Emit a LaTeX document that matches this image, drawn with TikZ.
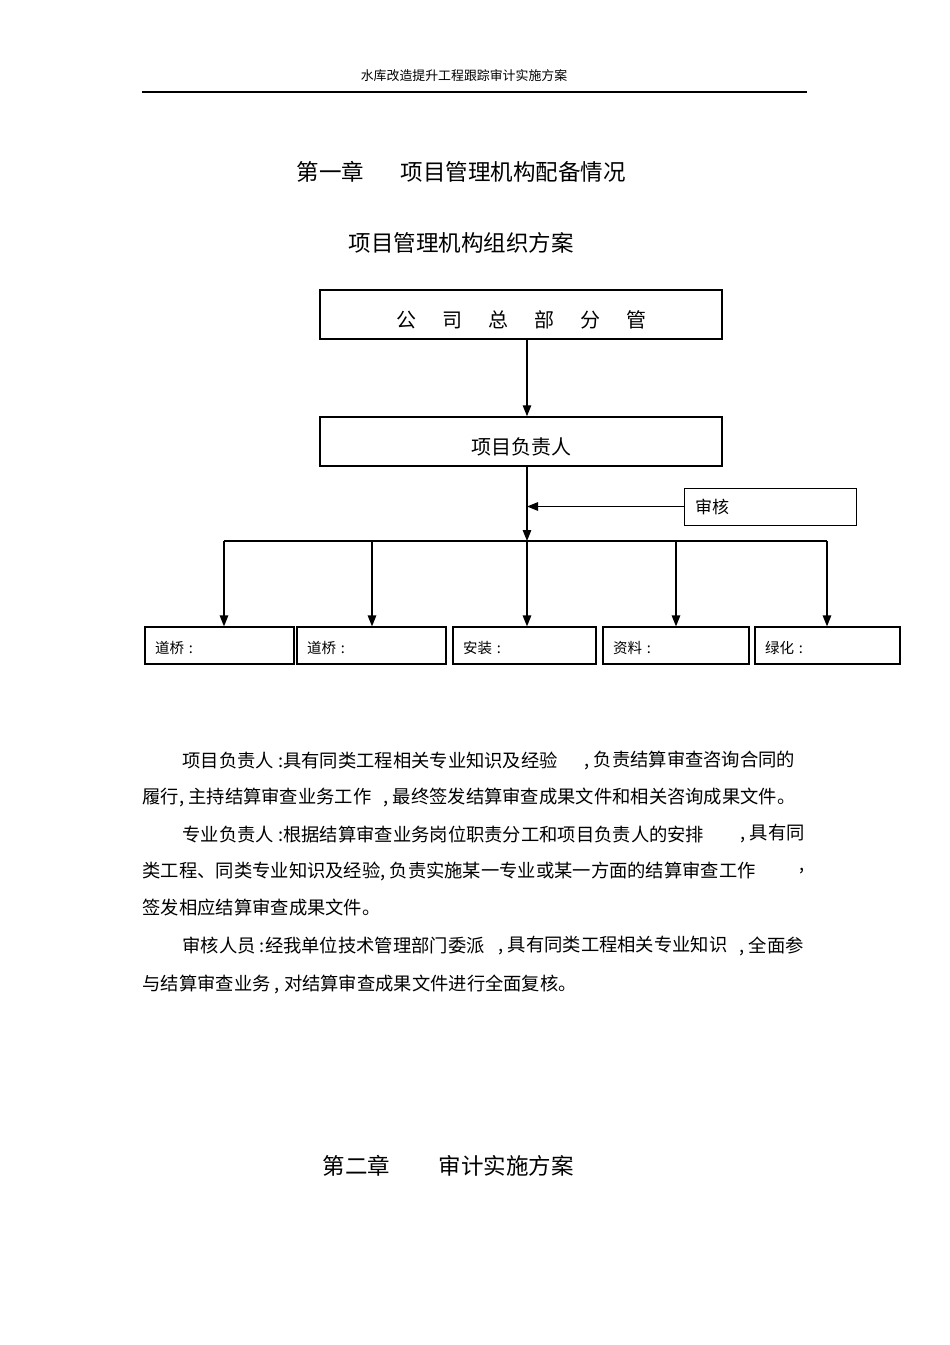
\documentclass[tikz,border=0pt]{standalone}
\usepackage{fontspec}
\setmainfont{Noto Sans CJK SC}
\usetikzlibrary{arrows.meta}
\usetikzlibrary{calc}

\begin{document}
\begin{tikzpicture}[x = 1pt, y = -1pt, >={Triangle[length = 11pt, width = 8.5pt]}, line width = 1.3pt,
						main box/.style = {rectangle, draw, minimum width = 402pt, minimum height = 49pt, inner sep = 0pt, text height = 26pt, text depth = 0pt, line width = 1.5pt, font = \fontsize{20}{22}\selectfont},
						audit box/.style = {rectangle, draw, minimum height = 37pt, text width = 150pt, inner xsep = 11pt, align = left, line width = 1pt, font = \fontsize{17}{20}\selectfont},
						unit box/.style = {rectangle, draw, minimum height = 37pt, text width = #1, inner xsep = 10pt, text height = 16pt, text depth = 0pt, align = left, line width = 1.2pt, font = \fontsize{14.5}{17}\selectfont},
						title/.style = {anchor = west, inner sep = 0pt, font = \fontsize{22.5}{26}\selectfont},
						body/.style = {anchor = west, inner sep = 0pt, font = \fontsize{18.3}{21}\selectfont}]
		\useasboundingbox (0,0) rectangle (950,1345);

		% header
		\node[inner sep = 0pt, font = \fontsize{12.9}{15}\selectfont] (hdr) at (464,76) {水库改造提升工程跟踪审计实施方案};
		\coordinate (hl) at (142,92);
		\coordinate (hr) at (807,92);
		\draw (hl) -- (hr);

		\node[title] (ch1) at (296,172) {第一章};
		\node[title] (ch1t) at (400,172) {项目管理机构配备情况};
		\node[title] (sub) at (348,243) {项目管理机构组织方案};

		% chart
		\node[main box] (hq) at (521,314.5) {公\hspace{26pt}司\hspace{26pt}总\hspace{26pt}部\hspace{26pt}分\hspace{26pt}管};
		\node[main box] (pm) at (521,441.5) {项目负责人};
		\node[audit box] (aud) at (770,506.5) {审核};

		\node[unit box = 129pt] (u1) at (219.5,645.5) {道桥 :};
		\node[unit box = 129pt] (u2) at (371.5,645.5) {道桥 :};
		\node[unit box = 123pt] (u3) at (524.5,645.5) {安装 :};
		\node[unit box = 126pt] (u4) at (676,645.5) {资料 :};
		\node[unit box = 125pt] (u5) at (827.5,645.5) {绿化 :};

		\coordinate (b1) at (224,541);
		\coordinate (b2) at (372,541);
		\coordinate (b3) at (527,541);
		\coordinate (b4) at (676,541);
		\coordinate (b5) at (827,541);
		\coordinate (hqs) at (527,339);
		\coordinate (pms) at (527,466);

		\draw[->] (hqs) -- (hqs |- pm.north);
		\draw[->] (pms) -- (b3);
		\draw[->] (aud.west) -- (aud.west -| b3);
		\draw (b1) -- (b5);
		\draw[->] (b1) -- (b1 |- u1.north);
		\draw[->] (b2) -- (b2 |- u2.north);
		\draw[->] (b3) -- (b3 |- u3.north);
		\draw[->] (b4) -- (b4 |- u4.north);
		\draw[->] (b5) -- (b5 |- u5.north);

		% text below the chart
		\node[body] (p1a) at (182,760) {项目负责人 :具有同类工程相关专业知识及经验};
		\node[body] (p1b) at (584,760) {, 负责结算审查咨询合同的};
		\node[body] (p2a) at (142,797) {履行, 主持结算审查业务工作};
		\node[body] (p2b) at (383,797) {, 最终签发结算审查成果文件和相关咨询成果文件。};
		\node[body] (p3a) at (182,834) {专业负责人 :根据结算审查业务岗位职责分工和项目负责人的安排};
		\node[body] (p3b) at (740,834) {, 具有同};
		\node[body] (p4a) at (142,871) {类工程、同类专业知识及经验, 负责实施某一专业或某一方面的结算审查工作};
		\node[body] (p4b) at (799,871) {,};
		\node[body] (p5) at (142,908) {签发相应结算审查成果文件。};
		\node[body] (p6a) at (182,946) {审核人员 :经我单位技术管理部门委派};
		\node[body] (p6b) at (498,946) {, 具有同类工程相关专业知识};
		\node[body] (p6c) at (739,946) {, 全面参};
		\node[body] (p7) at (142,984) {与结算审查业务 , 对结算审查成果文件进行全面复核。};

		\node[title] (ch2) at (322,1166) {第二章};
		\node[title] (ch2t) at (438,1166) {审计实施方案};

	\end{tikzpicture}
\end{document}
